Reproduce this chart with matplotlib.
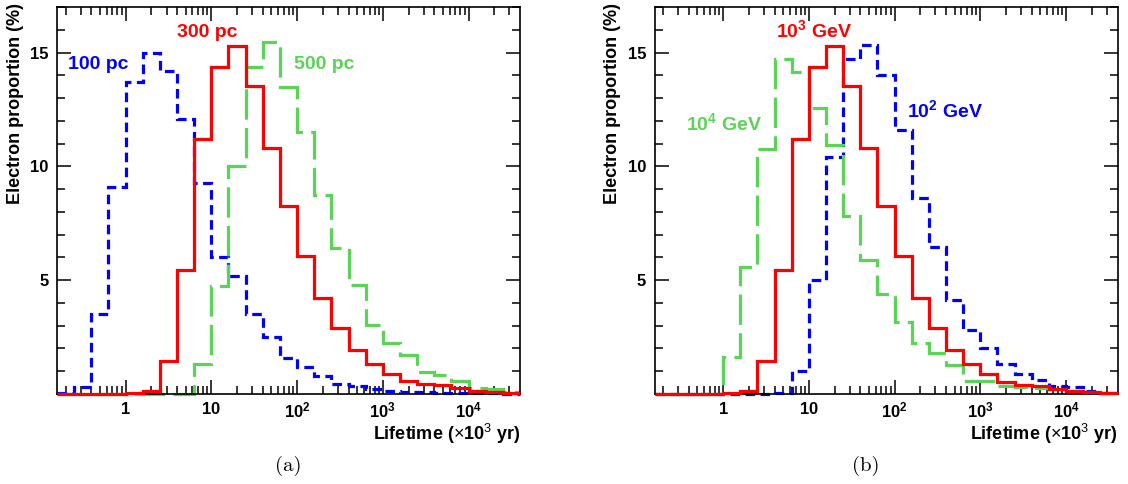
import numpy as np
import matplotlib
matplotlib.use("Agg")
import matplotlib.pyplot as plt
from matplotlib.ticker import FixedLocator, NullFormatter, LogLocator

plt.rcParams['font.family'] = ['Liberation Sans', 'DejaVu Sans']
plt.rcParams['mathtext.fontset'] = 'custom'
plt.rcParams['mathtext.rm'] = 'Liberation Sans'
plt.rcParams['mathtext.bf'] = 'Liberation Sans:bold'
plt.rcParams['mathtext.it'] = 'Liberation Sans:italic'

# ---- data ----
log_edges = np.round(np.arange(-0.8, 4.6001, 0.2), 2)   # 27 bins of 0.2 decade
edges = 10.0 ** log_edges

# panel (a): distance
blue_100pc = [0.05, 0.3, 3.5, 9.1, 13.7, 15.0, 14.2, 12.1, 9.25, 6.0, 5.2, 3.5, 2.5, 1.6,
              1.2, 0.8, 0.45, 0.35, 0.2, 0.15, 0.1, 0.08, 0.06, 0.05, 0.04, 0.03, 0.02]
red_300pc = [0.0, 0.0, 0.0, 0.0, 0.05, 0.15, 1.45, 5.45, 11.2, 14.35, 15.3, 13.55, 10.8, 8.25,
             6.05, 4.2, 2.9, 1.95, 1.3, 0.9, 0.55, 0.43, 0.38, 0.28, 0.15, 0.1, 0.05]
green_500pc = [0.0, 0.0, 0.0, 0.0, 0.0, 0.0, 0.0, 0.0, 1.3, 4.75, 10.0, 14.35, 15.45, 13.5,
               11.5, 8.75, 6.4, 4.8, 3.05, 2.25, 1.7, 0.95, 0.82, 0.55, 0.25, 0.2, 0.08]

# panel (b): energy
blue_1e2GeV = [0.02, 0.02, 0.02, 0.02, 0.02, 0.02, 0.02, 0.05, 1.0, 5.0, 10.4, 14.7, 15.35, 14.0,
               11.6, 8.6, 6.45, 4.15, 2.8, 2.0, 1.3, 0.87, 0.62, 0.36, 0.3, 0.15, 0.05]
red_1e3GeV = [0.0, 0.0, 0.0, 0.0, 0.05, 0.15, 1.45, 5.45, 11.2, 14.35, 15.3, 13.55, 10.8, 8.25,
              6.05, 4.2, 2.9, 1.95, 1.3, 0.9, 0.53, 0.4, 0.33, 0.22, 0.15, 0.1, 0.05]
green_1e4GeV = [0.0, 0.0, 0.0, 0.0, 1.63, 5.6, 10.75, 14.7, 14.15, 12.55, 10.95, 7.8, 5.87, 4.38,
                3.15, 2.26, 1.82, 1.27, 0.58, 0.58, 0.35, 0.3, 0.25, 0.2, 0.12, 0.08, 0.05]

xticks = [1, 10, 100, 1000, 10000]
xticklabels = [r'$\mathbf{1}$', r'$\mathbf{10}$', r'$\mathbf{10^{2}}$',
               r'$\mathbf{10^{3}}$', r'$\mathbf{10^{4}}$']
yticks = [5, 10, 15]

BLUE = '#0000FF'
RED = '#FF0000'
GREEN = '#59D454'

fig = plt.figure(figsize=(11.28, 4.84), dpi=100)
ax_a = fig.add_axes([57/1128, 90/484, 463/1128, 387/484])
ax_b = fig.add_axes([654.5/1128, 90/484, 463/1128, 387/484])


def style_axes(ax):
    ax.set_xscale('log')
    ax.set_xlim(edges[0], edges[-1])
    ax.set_ylim(0, 17)
    ax.set_xticks(xticks)
    ax.set_xticklabels(xticklabels)
    ax.xaxis.set_minor_locator(LogLocator(base=10, subs=np.arange(2, 10), numticks=20))
    ax.xaxis.set_minor_formatter(NullFormatter())
    ax.set_yticks(yticks)
    ax.set_yticklabels([str(v) for v in yticks], fontweight='bold')
    ax.yaxis.set_minor_locator(FixedLocator([v for v in range(1, 18) if v not in yticks]))
    ax.tick_params(which='both', direction='in', top=True, right=True, labelsize=12,
                   width=1.1, pad=6)
    ax.tick_params(axis='x', which='major', pad=5)
    ax.tick_params(which='major', length=10)
    ax.tick_params(which='minor', length=5.5)
    for s in ax.spines.values():
        s.set_linewidth(1.2)
    ax.set_ylabel('Electron proportion (%)', fontsize=13, fontweight='bold', loc='top')
    ax.yaxis.set_label_coords(-0.072, 1.01)
    ax.set_xlabel(r'Lifetime ($\times$10$^{3}$ yr)', fontsize=13, fontweight='bold', loc='right')
    ax.xaxis.set_label_coords(1.0, -0.072)


def draw(ax, vals, color, kind):
    lw = 2.3
    st = ax.stairs(vals, edges, color=color, linewidth=lw, baseline=None, clip_on=False)
    if kind == 'dot':
        st.set_linestyle((0, (3.0, 1.7)))
    elif kind == 'dash':
        st.set_linestyle((0, (9.5, 2.6)))
    st.set_zorder(3 if kind == 'solid' else 2)


style_axes(ax_a)
style_axes(ax_b)

draw(ax_a, blue_100pc, BLUE, 'dot')
draw(ax_a, green_500pc, GREEN, 'dash')
draw(ax_a, red_300pc, RED, 'solid')

draw(ax_b, blue_1e2GeV, BLUE, 'dot')
draw(ax_b, green_1e4GeV, GREEN, 'dash')
draw(ax_b, red_1e3GeV, RED, 'solid')

lab = dict(fontsize=14, fontweight='bold', ha='left', va='baseline')
ax_a.text(10**-0.673, 14.28, '100 pc', color=BLUE, **lab)
ax_a.text(10**0.603, 15.67, '300 pc', color=RED, **lab)
ax_a.text(10**1.96, 14.28, '500 pc', color=GREEN, **lab)

ax_b.text(10**0.612, 15.67, r'10$^{\mathbf{3}}$ GeV', color=RED, **lab)
ax_b.text(10**2.142, 12.16, r'10$^{\mathbf{2}}$ GeV', color=BLUE, **lab)
ax_b.text(10**-0.428, 11.59, r'10$^{\mathbf{4}}$ GeV', color=GREEN, **lab)

fig.text(288/1128, 1 - 466/484, '(a)', fontsize=15, fontfamily=['cmr10', 'DejaVu Serif'],
         ha='center', va='center')
fig.text(866/1128, 1 - 466/484, '(b)', fontsize=15, fontfamily=['cmr10', 'DejaVu Serif'],
         ha='center', va='center')

fig.savefig('out.png', dpi=100)
